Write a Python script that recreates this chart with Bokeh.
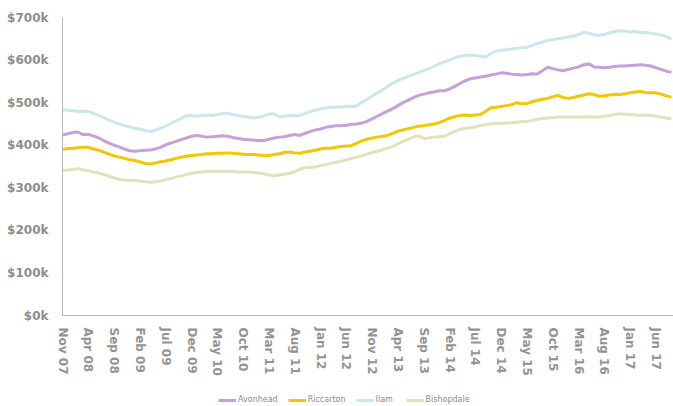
from bokeh.plotting import figure
from bokeh.models import Range1d, FixedTicker, Legend, LegendItem
from bokeh.layouts import column
from bokeh.embed import file_html
from bokeh.resources import INLINE

tick_labels = ["Nov 07", "Apr 08", "Sep 08", "Feb 09", "Jul 09", "Dec 09", "May 10", "Oct 10",
               "Mar 11", "Aug 11", "Jan 12", "Jun 12", "Nov 12", "Apr 13", "Sep 13", "Feb 14",
               "Jul 14", "Dec 14", "May 15", "Oct 15", "Mar 16", "Aug 16", "Jan 17", "Jun 17"]
y_ticks = [0, 100000, 200000, 300000, 400000, 500000, 600000, 700000]
y_labels = ["$0k", "$100k", "$200k", "$300k", "$400k", "$500k", "$600k", "$700k"]

# monthly median values (thousands), Nov 2007 .. Sep 2017
ilam = [483, 482, 481, 479, 480, 479, 475, 470, 465, 459, 454, 450, 446, 443, 440, 438, 435, 432, 435, 440,
        445, 451, 457, 463, 469, 470, 468, 470, 471, 470, 472, 474, 475, 472, 470, 468, 466, 464, 466, 469,
        473, 474, 467, 468, 470, 469, 470, 475, 479, 482, 485, 488, 489, 490, 490, 491, 491, 492, 501, 508,
        515, 523, 530, 538, 546, 552, 557, 562, 566, 571, 575, 580, 585, 591, 596, 600, 605, 609, 611, 612,
        611, 609, 607, 615, 621, 623, 624, 626, 628, 629, 630, 634, 639, 642, 646, 648, 650, 652, 654, 656,
        660, 665, 663, 660, 658, 660, 664, 667, 669, 668, 666, 667, 665, 665, 663, 661, 659, 655, 650]
avonhead = [424, 427, 430, 431, 425, 425, 422, 417, 411, 405, 400, 396, 391, 387, 386, 387, 388, 389, 391, 395,
            401, 405, 409, 413, 417, 421, 423, 421, 419, 420, 421, 422, 421, 418, 416, 414, 413, 412, 411, 411,
            414, 417, 419, 420, 423, 425, 423, 428, 432, 436, 438, 442, 444, 446, 446, 447, 449, 450, 452, 456,
            462, 468, 474, 480, 486, 493, 500, 506, 512, 517, 520, 523, 525, 528, 528, 532, 538, 545, 551, 556,
            558, 560, 562, 565, 567, 570, 569, 567, 566, 565, 566, 568, 567, 575, 583, 580, 577, 575, 578, 581,
            584, 589, 591, 584, 583, 582, 583, 585, 586, 586, 587, 588, 589, 588, 586, 582, 578, 574, 571]
riccarton = [390, 392, 393, 394, 395, 395, 391, 388, 384, 379, 375, 372, 369, 366, 364, 361, 357, 356, 358, 361,
             363, 366, 369, 372, 374, 376, 377, 378, 380, 380, 381, 381, 382, 381, 380, 379, 378, 378, 377, 376,
             376, 378, 380, 383, 384, 382, 381, 384, 386, 388, 391, 393, 393, 395, 397, 398, 399, 405, 410, 414,
             417, 419, 421, 423, 428, 433, 436, 439, 442, 445, 446, 448, 450, 453, 458, 464, 467, 470, 471, 470,
             471, 472, 480, 488, 489, 491, 493, 495, 500, 497, 498, 502, 505, 508, 510, 514, 517, 512, 510, 512,
             515, 518, 521, 519, 515, 516, 518, 519, 519, 521, 523, 525, 526, 524, 523, 523, 520, 516, 513]
bishopdale = [341, 341, 343, 345, 342, 340, 337, 335, 331, 327, 323, 320, 318, 317, 317, 316, 314, 313, 314, 316,
              319, 322, 325, 328, 331, 334, 336, 337, 338, 339, 339, 339, 339, 338, 337, 337, 337, 336, 335, 333,
              330, 328, 330, 332, 334, 338, 344, 347, 348, 349, 352, 355, 357, 360, 362, 366, 369, 372, 375, 379,
              383, 386, 389, 393, 397, 403, 409, 414, 419, 422, 416, 417, 419, 420, 421, 427, 432, 437, 440, 441,
              443, 446, 448, 450, 452, 451, 452, 453, 454, 455, 456, 458, 461, 463, 464, 465, 466, 466, 466, 466,
              466, 466, 467, 466, 466, 468, 470, 472, 474, 473, 472, 471, 470, 471, 470, 468, 466, 464, 462]

series = [("Avonhead", avonhead, "#c6a0d8"),
          ("Riccarton", riccarton, "#f2c600"),
          ("Ilam", ilam, "#cbe7ec"),
          ("Bishopdale", bishopdale, "#e2e1bc")]

months = list(range(len(ilam)))

p = figure(width=673, height=378, output_backend="svg", toolbar_location=None,
           x_range=Range1d(0, 118.4), y_range=Range1d(0, 700000),
           min_border_left=62, min_border_right=0, min_border_top=17, min_border_bottom=63)
p.outline_line_color = None
p.xgrid.visible = False
p.ygrid.visible = False

for name, vals, col in series:
    p.line(months, [v * 1000 for v in vals], line_color=col, line_width=3)

label_color = "#8e8e8e"
p.yaxis.ticker = FixedTicker(ticks=y_ticks)
p.yaxis.major_label_overrides = {t: l for t, l in zip(y_ticks, y_labels)}
p.xaxis.ticker = FixedTicker(ticks=[i * 5 for i in range(len(tick_labels))])
p.xaxis.major_label_overrides = {i * 5: l for i, l in enumerate(tick_labels)}
p.xaxis.major_label_orientation = "vertical"
for ax in (p.xaxis, p.yaxis):
    ax.axis_line_color = "#b8b8b8"
    ax.axis_line_width = 1
    ax.major_tick_line_color = None
    ax.minor_tick_line_color = None
    ax.major_tick_out = 0
    ax.major_tick_in = 0
    ax.minor_tick_out = 0
    ax.major_label_text_color = label_color
    ax.major_label_text_font = "DejaVu Sans"
    ax.major_label_text_font_style = "bold"
    ax.major_label_text_font_size = "12px"
p.xaxis.major_label_text_color = "#939393"
p.yaxis.major_label_standoff = 14
p.xaxis.major_label_standoff = 12

# legend strip below the chart (legend swatches only, no plotted data)
lg = figure(width=673, height=28, output_backend="svg", toolbar_location=None,
            x_range=Range1d(0, 1), y_range=Range1d(0, 1),
            min_border_left=0, min_border_right=0, min_border_top=0, min_border_bottom=0)
lg.outline_line_color = None
lg.axis.visible = False
lg.xgrid.visible = False
lg.ygrid.visible = False
items = []
for name, vals, col in series:
    r = lg.line([float("nan")], [float("nan")], line_color=col, line_width=3)
    items.append(LegendItem(label=name, renderers=[r]))
legend = Legend(items=items, orientation="horizontal", location=(156, 2),
                label_text_font="DejaVu Sans", label_text_font_size="8px",
                label_text_color="#8a8a8a", glyph_width=18, glyph_height=8,
                label_standoff=2, spacing=10, padding=2, margin=0,
                border_line_color=None, background_fill_alpha=0,
                label_height=8)
lg.add_layout(legend, "center")

layout = column(p, lg, spacing=0)
open("out.html", "w").write(file_html(layout, INLINE))
